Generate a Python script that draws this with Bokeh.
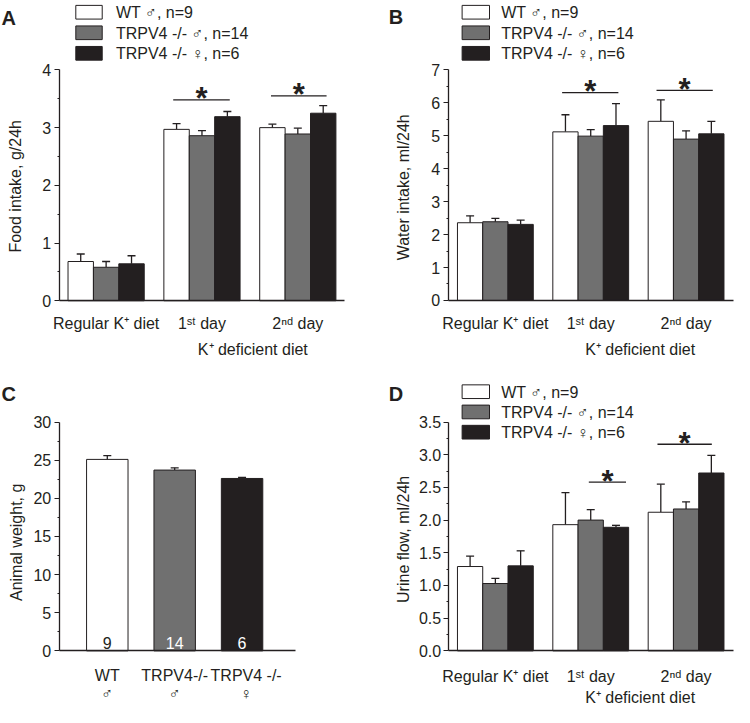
import math
from bokeh.plotting import figure
from bokeh.models import (ColumnDataSource, Whisker, TeeHead, Label, FixedTicker,
                          Range1d, NumeralTickFormatter)
from bokeh.layouts import column, row
from bokeh.embed import file_html
from bokeh.resources import INLINE

# ---------------- data ----------------
diet_labels = ["Regular K⁺ diet", "1ˢᵗ day", "2ⁿᵈ day"]
series_labels = ["WT ♂, n=9", "TRPV4 -/- ♂, n=14", "TRPV4 -/- ♀, n=6"]
deficient_label = "K⁺ deficient diet"

# A: food intake, g/24h (mean, SE)
food_wt = [0.68, 2.97, 3.00]
food_wt_se = [0.13, 0.10, 0.06]
food_kom = [0.58, 2.86, 2.89]
food_kom_se = [0.10, 0.09, 0.10]
food_kof = [0.64, 3.19, 3.25]
food_kof_se = [0.14, 0.09, 0.13]
food_sig_x0 = [0.70, 1.72]
food_sig_x1 = [1.29, 2.30]
food_sig_y = [3.48, 3.55]

# B: water intake, ml/24h
water_wt = [2.36, 5.12, 5.44]
water_wt_se = [0.21, 0.52, 0.65]
water_kom = [2.39, 4.99, 4.90]
water_kom_se = [0.10, 0.20, 0.25]
water_kof = [2.31, 5.31, 5.06]
water_kof_se = [0.13, 0.67, 0.38]
water_sig_x0 = [0.70, 1.69]
water_sig_x1 = [1.29, 2.28]
water_sig_y = [6.31, 6.38]

# C: animal weight, g
weight_labels = ["WT\n♂", "TRPV4-/-\n♂", "TRPV4 -/-\n♀"]
weight_mean = [25.1, 23.7, 22.6]
weight_se = [0.5, 0.3, 0.15]
weight_n = ["9", "14", "6"]

# D: urine flow, ml/24h
urine_wt = [1.29, 1.93, 2.12]
urine_wt_se = [0.16, 0.49, 0.43]
urine_kom = [1.03, 2.00, 2.17]
urine_kom_se = [0.08, 0.16, 0.11]
urine_kof = [1.30, 1.89, 2.72]
urine_kof_se = [0.23, 0.03, 0.27]
urine_sig_x0 = [0.98, 1.70]
urine_sig_x1 = [1.37, 2.27]
urine_sig_y = [2.58, 3.16]

# ---------------- style ----------------
FONT = "Liberation Sans"
INK = "#231f20"
FILLS = ["#ffffff", "#707070", "#231f20"]
S = 0.978          # reference-pixel -> page-pixel scale
FS = "16px"
TOP_H, BOT_H, COL_W = 359, 348, 367


class Panel:
    """A figure whose frame fills the whole canvas; axes sit at fixed locations."""

    def __init__(self, fx, fy, W, H, ax, bx, ay, by):
        self.ax, self.bx, self.ay, self.by = ax, bx, ay, by
        x0 = (fx / S - ax) / bx
        x1 = ((fx + W) / S - ax) / bx
        y0 = (ay - (fy + H) / S) / by
        y1 = (ay - fy / S) / by
        self.p = figure(width=W, height=H, x_range=Range1d(x0, x1),
                        y_range=Range1d(y0, y1), output_backend="svg",
                        toolbar_location=None, min_border=0,
                        min_border_left=0, min_border_right=0,
                        min_border_top=0, min_border_bottom=0,
                        outline_line_color=None)
        self.p.grid.visible = False

    def dx(self, rx):
        return (rx - self.ax) / self.bx

    def dy(self, ry):
        return (self.ay - ry) / self.by

    def text(self, rx, ry, t, size=FS, align="left", baseline="alphabetic",
             color=INK, style="normal", angle=0.0):
        self.p.add_layout(Label(x=self.dx(rx), y=self.dy(ry), text=t,
                                text_font=FONT, text_font_size=size,
                                text_align=align, text_baseline=baseline,
                                text_color=color, text_font_style=style,
                                angle=angle))


def style_axes(pn, axis_left, axis_right, yticks, yminor, ybounds,
               xticks, xlabels, xstandoff, yfmt=None, ystandoff=3):
    p = pn.p
    ya = p.yaxis[0]
    ya.fixed_location = pn.dx(axis_left)
    ya.ticker = FixedTicker(ticks=yticks, minor_ticks=yminor)
    ya.bounds = ybounds
    if yfmt:
        ya.formatter = NumeralTickFormatter(format=yfmt)
    xa = p.xaxis[0]
    xa.fixed_location = 0
    xa.bounds = (pn.dx(axis_left), pn.dx(axis_right))
    for a in (ya, xa):
        a.axis_line_color = INK
        a.axis_line_width = 1.3
        a.major_label_text_font = FONT
        a.major_label_text_font_size = FS
        a.major_label_text_color = INK
    ya.major_tick_line_color = INK
    ya.minor_tick_line_color = INK
    ya.major_tick_out = 5
    ya.major_tick_in = 0
    ya.minor_tick_out = 2
    ya.minor_tick_in = 0
    ya.major_label_standoff = ystandoff
    xa.ticker = FixedTicker(ticks=xticks, minor_ticks=[])
    xa.major_label_overrides = {t: l for t, l in zip(xticks, xlabels)}
    xa.major_tick_line_color = None
    xa.minor_tick_line_color = None
    xa.major_tick_out = 0
    xa.major_tick_in = 0
    xa.major_label_standoff = xstandoff


def grouped_bars(pn, means, ses, width):
    p = pn.p
    for k, (m, se) in enumerate(zip(means, ses)):
        xs = [i + (k - 1) * width for i in range(len(m))]
        src = ColumnDataSource(dict(x=xs, top=m, lo=m,
                                    hi=[a + b for a, b in zip(m, se)]))
        p.vbar(x="x", top="top", bottom=0, width=width, source=src,
               fill_color=FILLS[k], line_color=INK, line_width=1)
        p.add_layout(Whisker(source=src, base="x", lower="lo", upper="hi",
                             upper_head=TeeHead(size=8, line_color=INK, line_width=1.3),
                             lower_head=None, line_color=INK, line_width=1.3))


def legend(pn, box_l, box_r, text_x, top0, pitch):
    for i, lab in enumerate(series_labels):
        t = top0 + pitch * i
        pn.p.quad(left=pn.dx(box_l), right=pn.dx(box_r), top=pn.dy(t),
                  bottom=pn.dy(t + 14), fill_color=FILLS[i], line_color=INK,
                  line_width=1)
        pn.text(text_x, t + 7.5, lab, baseline="middle")


def significance(pn, x0s, x1s, ys):
    pn.p.segment(x0=x0s, y0=ys, x1=x1s, y1=ys, line_color=INK, line_width=1.3)
    for a, b, y in zip(x0s, x1s, ys):
        pn.p.add_layout(Label(x=(a + b) / 2, y=y + 1.0 / pn.by, text="*",
                              text_font=FONT, text_font_size="31px",
                              text_font_style="bold", text_align="center",
                              text_baseline="alphabetic", text_color=INK))


BW = 0.265
diet_ticks = [0, 1, 2]

# ---------- Panel A ----------
A = Panel(0, 0, COL_W, TOP_H, 108, 98, 307, 59)
grouped_bars(A, [food_wt, food_kom, food_kof],
             [food_wt_se, food_kom_se, food_kof_se], BW)
style_axes(A, 60, 352, [0, 1, 2, 3, 4], [0.5, 1.5, 2.5, 3.5], (0, 4),
           diet_ticks, diet_labels, 14)
legend(A, 77, 104, 118, 5, 21)
significance(A, food_sig_x0, food_sig_x1, food_sig_y)
A.text(15, 190, "Food intake, g/24h", align="center", angle=math.pi / 2)
A.text(258, 356.5, deficient_label, align="center")
A.text(1, 18, "A", size="20px", style="bold")

# ---------- Panel B ----------
B = Panel(COL_W, 0, COL_W, TOP_H, 506, 97.5, 306.7, 33.67)
grouped_bars(B, [water_wt, water_kom, water_kof],
             [water_wt_se, water_kom_se, water_kof_se], BW)
style_axes(B, 457.7, 749, list(range(8)), [0.5 + i for i in range(7)], (0, 7),
           diet_ticks, diet_labels, 15)
legend(B, 472, 500, 512, 5, 21)
significance(B, water_sig_x0, water_sig_x1, water_sig_y)
B.text(412, 191, "Water intake, ml/24h", align="center", angle=math.pi / 2)
B.text(654, 356.5, deficient_label, align="center")
B.text(397, 17, "B", size="20px", style="bold")

# ---------- Panel C ----------
C = Panel(0, TOP_H, COL_W, BOT_H, 109.2, 68.9, 665, 7.8)
srcC = ColumnDataSource(dict(x=[0, 1, 2], top=weight_mean, lo=weight_mean,
                             hi=[a + b for a, b in zip(weight_mean, weight_se)],
                             fill=FILLS))
C.p.vbar(x="x", top="top", bottom=0, width=0.615, source=srcC,
         fill_color="fill", line_color=INK, line_width=1)
C.p.add_layout(Whisker(source=srcC, base="x", lower="lo", upper="hi",
                       upper_head=TeeHead(size=8, line_color=INK, line_width=1.3),
                       lower_head=None, line_color=INK, line_width=1.3))
style_axes(C, 60, 302, [0, 5, 10, 15, 20, 25, 30], [2.5 + 5 * i for i in range(6)],
           (0, 30), [0, 1, 2.06], weight_labels, 16)
C.p.xaxis[0].major_label_text_line_height = 1.05
for i, n in enumerate(weight_n):
    C.p.add_layout(Label(x=i, y=C.dy(657), text=n, text_font=FONT,
                         text_font_size=FS, text_align="center",
                         text_baseline="alphabetic",
                         text_color=INK if i == 0 else "#ffffff"))
C.text(16, 554, "Animal weight, g", align="center", angle=math.pi / 2)
C.text(1, 402, "C", size="20px", style="bold")

# ---------- Panel D ----------
D = Panel(COL_W, TOP_H, COL_W, BOT_H, 506, 97.5, 665, 66.86)
grouped_bars(D, [urine_wt, urine_kom, urine_kof],
             [urine_wt_se, urine_kom_se, urine_kof_se], BW)
style_axes(D, 457.7, 749, [0.5 * i for i in range(8)],
           [0.25 + 0.5 * i for i in range(7)], (0, 3.5),
           diet_ticks, diet_labels, 17, yfmt="0.0", ystandoff=2)
legend(D, 472, 500, 512, 393, 20.7)
significance(D, urine_sig_x0, urine_sig_x1, urine_sig_y)
D.text(412, 551, "Urine flow, ml/24h", align="center", angle=math.pi / 2)
D.text(654, 713, deficient_label, align="center")
D.text(397, 402, "D", size="20px", style="bold")

layout = column(row(A.p, B.p), row(C.p, D.p))
open("out.html", "w").write(file_html(layout, INLINE, title="TRPV4 diet"))
